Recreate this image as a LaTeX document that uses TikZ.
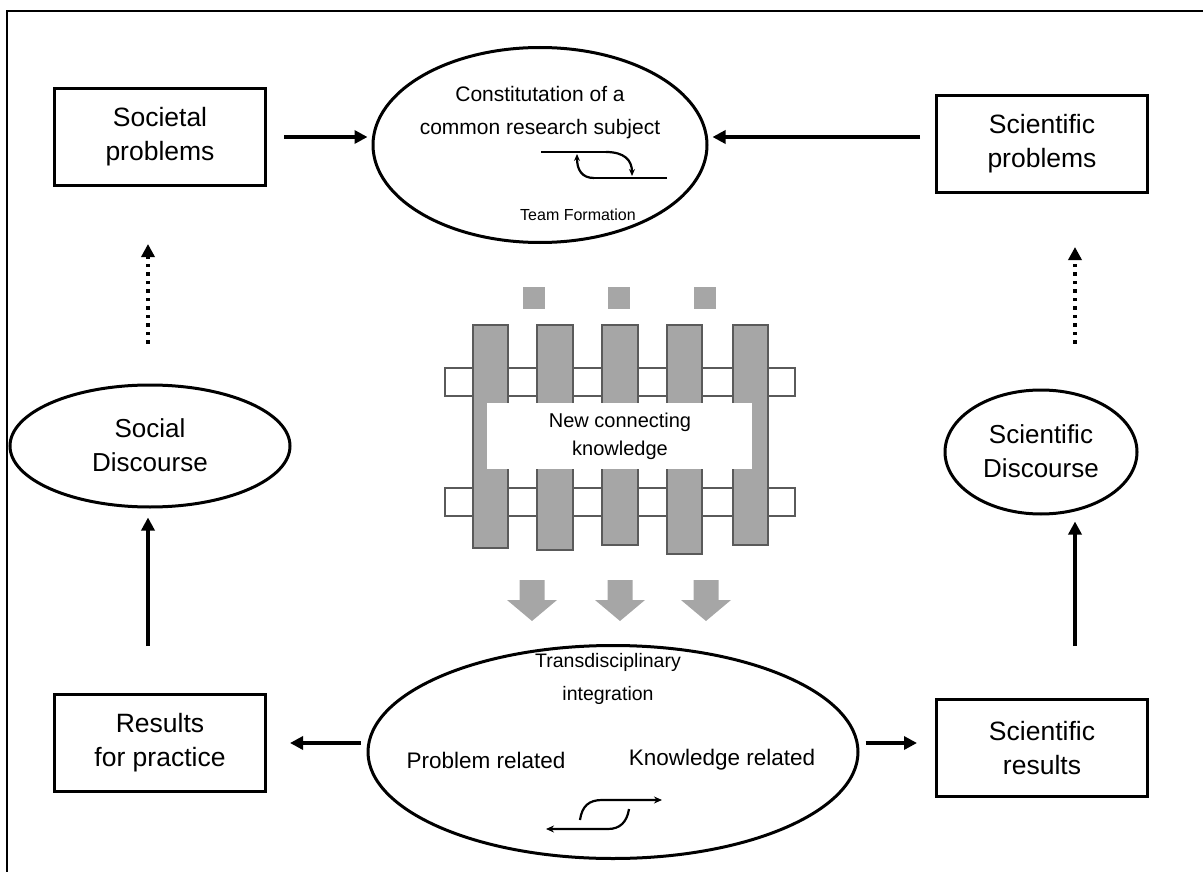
\documentclass[tikz,border=0pt]{standalone}
\usepackage{fontspec}
\setmainfont{Liberation Sans}
\usetikzlibrary{shapes.geometric,arrows.meta,calc}
\definecolor{barfill}{HTML}{A6A6A6}
\definecolor{barline}{HTML}{5A5A5A}
\begin{document}
\begin{tikzpicture}[x=1pt,y=-1pt,
  box/.style={draw,line width=3pt,minimum width=211pt,minimum height=97pt,align=center,font=\fontsize{26.5}{34}\selectfont,inner sep=0pt},
  oval/.style={draw,ellipse,line width=3pt,inner sep=0pt,align=center},
  ovaltext/.style={align=center,font=\fontsize{26}{34}\selectfont},
  smalltext/.style={align=center,font=\fontsize{21}{33}\selectfont},
  arr/.style={line width=3.4pt,-{Triangle[length=13pt,width=13pt]}},
  dotarr/.style={line width=3.4pt,dash pattern=on 3.5pt off 5pt,-{Triangle[length=13pt,width=13pt]}},
  icon/.style={line width=2.2pt},
  hbar/.style={draw=barline,line width=2pt,fill=white},
  vbar/.style={draw=barline,line width=2.6pt,fill=barfill}
]
\useasboundingbox (0,0) rectangle (1203,872);
\begin{scope}
\clip (0,0) rectangle (1203,872);
\draw[line width=2.6pt] (7,11) rectangle (1220,890);
\end{scope}

% boxes
\node[box] (soc) at (160,137) {Societal\\problems};
\node[box] (scp) at (1042,144) {Scientific\\problems};
\node[box] (res) at (160,743) {Results\\for practice};
\node[box] (scr) at (1042,748) {Scientific\\results};

% ellipses
\node[oval,minimum width=334pt,minimum height=195pt] (top) at (540,145) {};
\node[smalltext] (toptxt) at (540,113) {Constitutation of a\\common research subject};
\node[font=\fontsize{16}{19}\selectfont] (team) at (578,215) {Team Formation};

\node[oval,minimum width=490pt,minimum height=213pt] (bot) at (613,752) {};
\node[font=\fontsize{19.5}{33}\selectfont,align=center] (bottxt) at (608,679) {Transdisciplinary\\integration};
\node[font=\fontsize{22.5}{26}\selectfont] (prob) at (486,760) {Problem related};
\node[font=\fontsize{22.5}{26}\selectfont] (know) at (722,760) {Knowledge related};

\node[oval,minimum width=280pt,minimum height=122pt] (sd) at (150,446) {};
\node[ovaltext] (sdtxt) at (150,445) {Social\\Discourse};
\node[oval,minimum width=192pt,minimum height=124pt] (scd) at (1041,452) {};
\node[ovaltext] (scdtxt) at (1041,451) {Scientific\\Discourse};

% connectors
\draw[arr] ($(soc.east)+(17,0)$) -- ($(top.west |- soc.east)+(-4,0)$);
\draw[arr] ($(scp.west |- soc.east)+(-15,0)$) -- ($(top.east |- soc.east)+(4,0)$);
\draw[arr] ($(bot.west |- res.east)+(-6,0)$) -- ($(res.east)+(23,0)$);
\draw[arr] ($(bot.east |- res.east)+(6,0)$) -- ($(scr.west |- res.east)+(-18,0)$);

\draw[dotarr] ($(sd.north)+(-2,-40)$) -- ($(sd.north |- soc.south)+(-2,57)$);
\draw[arr] ($(sd.south |- res.north)+(-2,-47)$) -- ($(sd.south)+(-2,9)$);
\draw[dotarr] ($(scd.north)+(34,-45)$) -- ($(scd.north |- scp.south)+(34,53)$);
\draw[arr] ($(scd.south |- scr.north)+(34,-52)$) -- ($(scd.south)+(34,6)$);

% top icon
\draw[icon] (541,152) -- (606,152);
\draw[icon,-{Stealth[length=7pt,width=6pt]}] (606,152) .. controls (624,152) and (632,160) .. (632,176);
\draw[icon] (667,178) -- (594,178);
\draw[icon,-{Stealth[length=7pt,width=6pt]}] (594,178) .. controls (582,178) and (577,170) .. (577,154);

% bottom icon
\draw[icon,-{Stealth[length=8pt,width=7pt]}] (580,820) .. controls (582,806) and (589,800) .. (602,800) -- (662,800);
\draw[icon,-{Stealth[length=8pt,width=7pt]}] (629,809) .. controls (627,822) and (620,829) .. (608,829) -- (546,829);

% grid
\draw[hbar] (445,368) rectangle (795,396);
\draw[hbar] (445,488) rectangle (795,516);
\foreach \a/\b/\c in {473/508/548,537/573/550,602/638/545,667/702/554,733/768/545}
  \draw[vbar] (\a,325) rectangle (\b,\c);
\fill[white] (487,403) rectangle (752,469);
\node[font=\fontsize{20}{28}\selectfont,align=center] (newk) at (620,436) {New connecting\\knowledge};
\foreach \x in {523,608,694}
  \fill[barfill] (\x,287) rectangle (\x+22,309);
\foreach \cx in {532,620,706}
  \fill[barfill] (\cx-12.5,580) -- (\cx+12.5,580) -- (\cx+12.5,600) -- (\cx+25,600) -- (\cx,621) -- (\cx-25,600) -- (\cx-12.5,600) -- cycle;
\end{tikzpicture}
\end{document}
